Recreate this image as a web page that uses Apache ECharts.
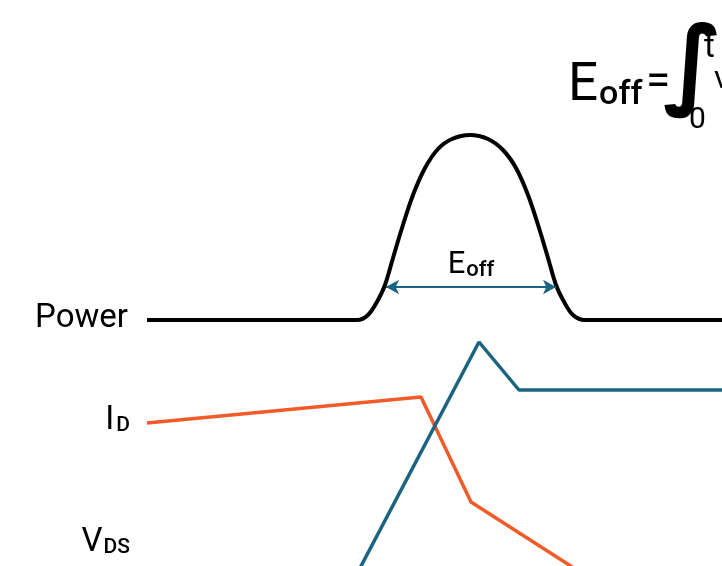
<!DOCTYPE html>
<html>
<head>
<meta charset="utf-8">
<script src="https://cdn.jsdelivr.net/npm/echarts@6/dist/echarts.min.js"></script>
<style>
  html, body { margin: 0; padding: 0; background: #fff; }
  #turnOff { width: 722px; height: 566px; }
</style>
</head>
<body>
<div id="turnOff"></div>
<script>
// time axis 0..722, level axis 0..566 (drawn top-down)
var powerX = [147, 357, 368, 378, 385, 393, 402, 413, 425, 438, 452, 470, 488, 503, 516, 528, 539, 548, 556, 563, 573, 585, 722];
var powerY = [320, 320, 315, 300, 285, 258, 228, 195, 168, 149, 139, 135, 139, 150, 168, 195, 228, 258, 285, 300, 315, 320, 320];
var idX = [147, 421, 471, 630];
var idY = [423, 397, 502, 604];
var vdsX = [340, 479, 519, 722];
var vdsY = [606, 342, 390, 390];
var arrowX = [386, 556];
var arrowY = 287;
var seriesNames = ['Power', 'I_D', 'V_DS'];

var baseColor = ['#000000', '#f15a29', '#1a6482'];
var fontFam = 'Roboto, "Noto Sans", sans-serif';

function pairs(xs, ys) {
    return xs.map(function (x, i) { return [x, ys[i]]; });
}

var chart = echarts.init(document.getElementById('turnOff'));
var option = {
    animation: false,
    backgroundColor: '#fff',
    grid: { left: 0, right: 0, top: 0, bottom: 0 },
    xAxis: { type: 'value', min: 0, max: 722, show: false },
    yAxis: { type: 'value', min: 0, max: 566, inverse: true, show: false },
    series: [
        {
            name: seriesNames[0],
            type: 'line',
            smooth: 0.35,
            symbol: 'none',
            lineStyle: { color: baseColor[0], width: 4 },
            data: pairs(powerX, powerY),
            markLine: {
                silent: true,
                symbol: ['arrow', 'arrow'],
                symbolSize: [11, 13],
                lineStyle: { color: baseColor[2], width: 2, type: 'solid' },
                label: {
                    show: true,
                    position: 'middle',
                    distance: 6,
                    formatter: '{a|E}{b|off}',
                    rich: {
                        a: { fontSize: 31, color: '#000', fontFamily: fontFam },
                        b: { fontSize: 22, color: '#000', fontFamily: fontFam, fontWeight: 500, padding: [10, 0, 0, 1] }
                    }
                },
                data: [[{ coord: [arrowX[0], arrowY] }, { coord: [arrowX[1], arrowY] }]]
            }
        },
        {
            name: seriesNames[1],
            type: 'line',
            symbol: 'none',
            lineStyle: { color: baseColor[1], width: 3.5 },
            data: pairs(idX, idY)
        },
        {
            name: seriesNames[2],
            type: 'line',
            symbol: 'none',
            lineStyle: { color: baseColor[2], width: 3.5 },
            data: pairs(vdsX, vdsY)
        }
    ],
    graphic: [
        { type: 'text', right: 594, top: 302, style: { text: 'Power', fontSize: 33, fontFamily: fontFam, fill: '#000' } },
        {
            type: 'text', right: 592, top: 404,
            style: {
                text: '{a|I}{b|D}', fill: '#000',
                rich: {
                    a: { fontSize: 33, fontFamily: fontFam },
                    b: { fontSize: 21, fontFamily: fontFam, fontWeight: 500, padding: [11, 0, 0, 2] }
                }
            }
        },
        {
            type: 'text', right: 592, top: 526,
            style: {
                text: '{a|V}{b|DS}', fill: '#000',
                rich: {
                    a: { fontSize: 33, fontFamily: fontFam },
                    b: { fontSize: 21, fontFamily: fontFam, fontWeight: 500, padding: [11, 0, 0, 1] }
                }
            }
        },
        // formula, cut off at the right edge
        {
            type: 'text', left: 568, top: 60,
            style: {
                text: '{a|E}{b|off}', fill: '#000',
                rich: {
                    a: { fontSize: 53, fontFamily: fontFam },
                    b: { fontSize: 34, fontFamily: fontFam, fontWeight: 500, padding: [17, 0, 0, 1] }
                }
            }
        },
        { type: 'text', left: 646, top: 62, style: { text: '=', fontSize: 44, fontFamily: fontFam, fill: '#000' } },
        { type: 'text', left: 663, top: 22, style: { text: '\u222B', fontSize: 98, fontFamily: '"DejaVu Sans"', fontWeight: 'bold', fill: '#000' } },
        { type: 'text', left: 689, top: 105, style: { text: '0', fontSize: 30, fontFamily: fontFam, fill: '#000' } },
        { type: 'text', left: 704, top: 32, style: { text: 't', fontSize: 33, fontFamily: fontFam, fill: '#000' } },
        { type: 'text', left: 714, top: 64, style: { text: 'v', fontSize: 32, fontFamily: fontFam, fill: '#000' } }
    ]
};
chart.setOption(option);
window.addEventListener('resize', function () { chart.resize(); });
</script>
</body>
</html>
